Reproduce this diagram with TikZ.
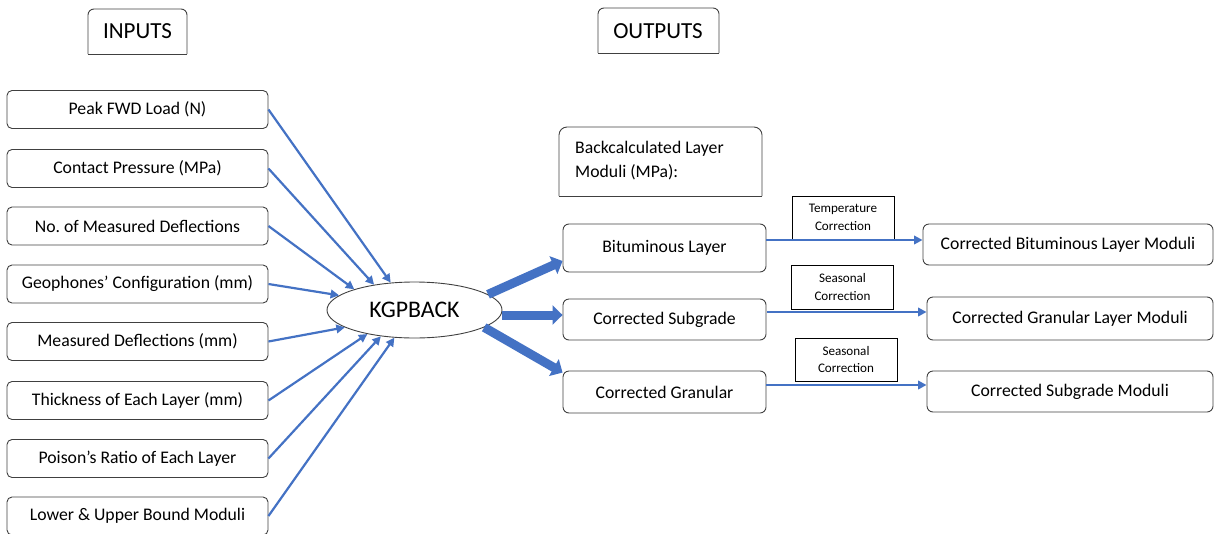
\documentclass[tikz,border=0pt]{standalone}
\usepackage{fontspec}
\setmainfont{Carlito}
\usetikzlibrary{shapes.geometric,arrows.meta,calc}
\definecolor{arrowblue}{HTML}{4472C4}
\definecolor{edgegray}{HTML}{404040}
\begin{document}
\begin{tikzpicture}[x=1pt,y=-1pt,
  txt/.style={font=\fontsize{17.7}{21}\selectfont},
  inbox/.style={txt, draw=edgegray, line width=0.9pt, rounded corners=5pt,
    minimum width=261pt, minimum height=38pt, inner sep=0pt},
  midbox/.style={txt, draw=edgegray, line width=0.9pt, rounded corners=6pt,
    minimum width=203pt, inner sep=0pt},
  outbox/.style={txt, draw=edgegray, line width=0.9pt, rounded corners=6pt,
    minimum width=286pt, inner sep=0pt},
  tagbox/.style={draw=black, line width=0.7pt, minimum width=102pt,
    minimum height=43pt, inner sep=0pt, align=center,
    font=\fontsize{13.1}{17.5}\selectfont},
  frame/.style={draw=edgegray, line width=0.9pt},
  titlefont/.style={font=\fontsize{23}{27}\selectfont},
  feed/.style={draw=arrowblue, line width=2.2pt,
    -{Triangle[length=8.5pt,width=8.5pt]}},
  bigarrow/.style={draw=arrowblue, line width=9pt,
    -{Triangle[length=10pt,width=19pt]}}]

\useasboundingbox (0,0) rectangle (1214,533);

% section titles in boxes with rounded top corners
\node[titlefont] (tin) at (137.5,31.5) {INPUTS};
\draw[frame, rounded corners=6pt] (88,54) -- (88,9) -- (187,9) -- (187,54);
\draw[frame, line cap=square] (88,54) -- (187,54);

\node[titlefont] (tout) at (658,31) {OUTPUTS};
\draw[frame, rounded corners=6pt] (598,53) -- (598,8) -- (719,8) -- (719,53);
\draw[frame, line cap=square] (598,53) -- (719,53);

% input parameters
\node[inbox] (i1) at (137.5,109.5) {Peak FWD Load (N)};
\node[inbox] (i2) at (137.5,168.5) {Contact Pressure (MPa)};
\node[inbox] (i3) at (137.5,226)   {No.\ of Measured Deflections};
\node[inbox] (i4) at (137.5,284)   {Geophones’ Configuration (mm)};
\node[inbox] (i5) at (137.5,341.5) {Measured Deflections (mm)};
\node[inbox] (i6) at (137.5,400.5) {Thickness of Each Layer (mm)};
\node[inbox] (i7) at (137.5,458.5) {Poison’s Ratio of Each Layer};
\node[inbox] (i8) at (137.5,516)   {Lower \& Upper Bound Moduli};

% backcalculation program
\node[ellipse, draw=edgegray, line width=0.9pt, minimum width=175pt,
  minimum height=56pt, inner sep=0pt, font=\fontsize{23.8}{28}\selectfont]
  (k) at (414.5,310) {KGPBACK};

\draw[feed] (i1.east) -- (k.131);
\draw[feed] (i2.east) -- (k.148);
\draw[feed] (i3.east) -- (k.161);
\draw[feed] (i4.east) -- (k.169);
\draw[feed] (i5.east) -- (k.194);
\draw[feed] (i6.east) -- (k.207);
\draw[feed] (i7.east) -- (k.218);
\draw[feed] (i8.east) -- (k.234);

% backcalculated moduli heading
\node[font=\fontsize{17.7}{24}\selectfont, align=left, anchor=west,
  inner sep=0pt] (bc) at (575,160.5)
  {Backcalculated Layer\\Moduli (MPa):};
\draw[frame, rounded corners=8pt] (559,196) -- (559,127) -- (762,127) -- (762,196);
\draw[frame, line cap=square] (559,196) -- (762,196);

% backcalculated layers
\node[midbox, minimum height=48pt] (b1) at (664.5,248)   {Bituminous Layer};
\node[midbox, minimum height=41pt] (b2) at (664.5,319.5) {Corrected Subgrade};
\node[midbox, minimum height=42pt] (b3) at (664.5,392)   {Corrected Granular};

\draw[bigarrow] (k.12) -- ($(b1.west)+(0,13)$);
\draw[bigarrow] ($(k.east)+(0,5)$) -- ($(b2.west)+(0,-4.5)$);
\draw[bigarrow] (k.-14) -- ($(b3.north west)+(0,2)$);

% corrections
\node[tagbox] (t1) at (843,217.5)   {Temperature\\Correction};
\node[tagbox, minimum height=44pt] (t2) at (842.5,287) {Seasonal\\Correction};
\node[tagbox] (t3) at (846,359.5)   {Seasonal\\Correction};

% corrected moduli
\node[outbox, minimum width=290pt, minimum height=41pt] (r1) at (1068,244.5) {Corrected Bituminous Layer Moduli};
\node[outbox, minimum height=43pt] (r2) at (1070,318.5) {Corrected Granular Layer Moduli};
\node[outbox, minimum height=41pt] (r3) at (1070,391.5) {Corrected Subgrade Moduli};

\coordinate (a1) at ($(b1.east)+(0,-8)$);
\coordinate (a2) at ($(b2.east)+(1,-7.5)$);
\coordinate (a3) at ($(b3.east)+(0,-7)$);
\draw[feed] (a1) -- (a1 -| r1.west);
\draw[feed] (a2) -- (a2 -| r2.west);
\draw[feed] (a3) -- (a3 -| r3.west);

\end{tikzpicture}
\end{document}
